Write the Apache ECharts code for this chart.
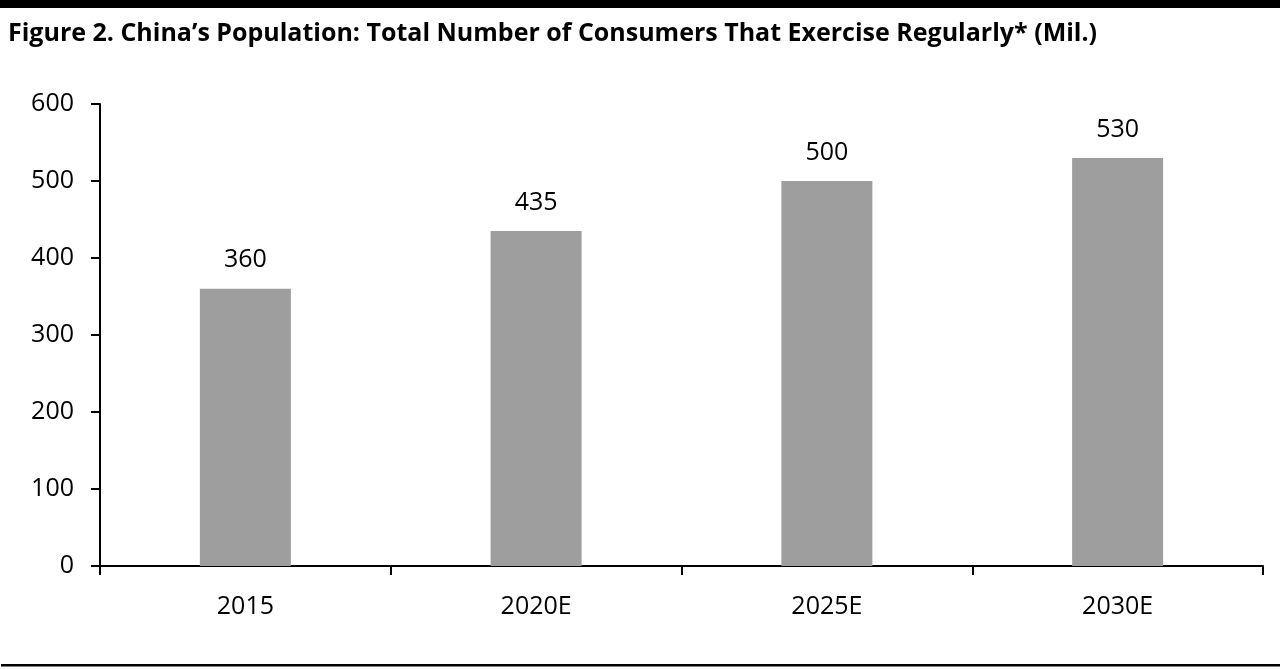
<!DOCTYPE html>
<html>
<head>
<meta charset="utf-8">
<script src="https://cdn.jsdelivr.net/npm/echarts@6/dist/echarts.min.js"></script>
<style>
html,body{margin:0;padding:0;background:#fff;}
#chart{width:1280px;height:669px;}
</style>
</head>
<body>
<div id="chart"></div>
<script>
const titleText = "Figure 2. China\u2019s Population: Total Number of Consumers That Exercise Regularly* (Mil.)";
const categories = ["2015", "2020E", "2025E", "2030E"];
const values = [360, 435, 500, 530];
const yTicks = {min: 0, max: 600, interval: 100};

const FONT = "'Open Sans', 'Liberation Sans', sans-serif";
const chart = echarts.init(document.getElementById('chart'), null, {renderer: 'canvas'});
chart.setOption({
  backgroundColor: '#ffffff',
  animation: false,
  title: {
    text: titleText,
    left: 3, top: 16,
    textStyle: {fontFamily: FONT, fontWeight: 'bold', fontSize: 25, color: '#000'}
  },
  graphic: [
    {type: 'rect', shape: {x: 0, y: 0, width: 1280, height: 8}, style: {fill: '#000'}},
    {type: 'rect', shape: {x: 1, y: 664, width: 1279, height: 2.5}, style: {fill: '#000'}}
  ],
  grid: {left: 100, right: 17, top: 104, bottom: 103},
  xAxis: {
    type: 'category',
    data: categories,
    axisLine: {lineStyle: {color: '#000', width: 2}},
    axisTick: {show: true, length: 9, lineStyle: {color: '#000', width: 2}, alignWithLabel: false},
    axisLabel: {fontFamily: FONT, fontSize: 25, color: '#000', margin: 28}
  },
  yAxis: {
    type: 'value',
    min: yTicks.min, max: yTicks.max, interval: yTicks.interval,
    splitLine: {show: false},
    axisLine: {show: true, lineStyle: {color: '#000', width: 2}},
    axisTick: {show: true, length: 9, lineStyle: {color: '#000', width: 2}},
    axisLabel: {fontFamily: FONT, fontSize: 25, color: '#000', margin: 26}
  },
  series: [{
    type: 'bar',
    data: values,
    barWidth: 91,
    itemStyle: {color: '#9e9e9e'},
    label: {show: true, position: 'top', distance: 16, fontFamily: FONT, fontSize: 25, color: '#000'}
  }]
});
</script>
</body>
</html>
